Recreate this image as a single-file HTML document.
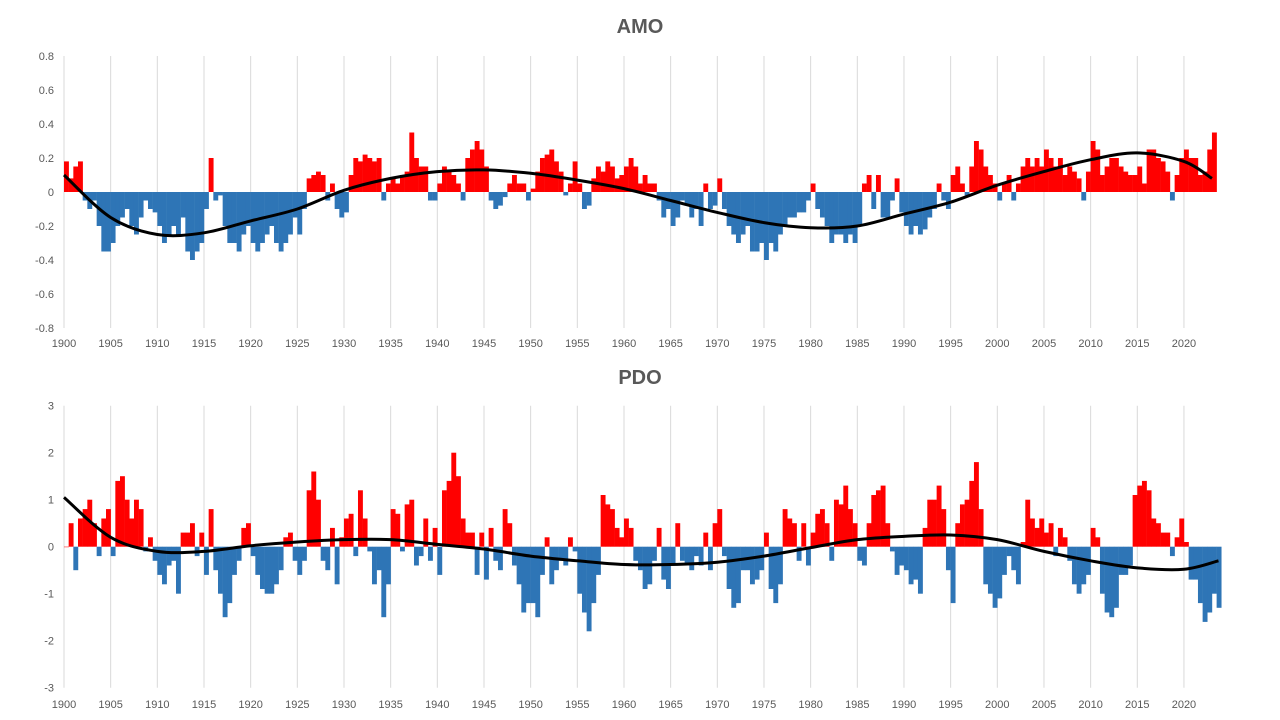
<!DOCTYPE html>
<html><head><meta charset="utf-8"><style>
body{margin:0;background:#fff;width:1280px;height:720px;overflow:hidden}
svg{display:block}
text{font-family:"Liberation Sans",sans-serif;fill:#595959}
</style></head><body>
<svg id="chart" width="1280" height="720"></svg>
<script>
// AMO semi-annual values starting 1900.0
const amoValues=[0.18,0.08,0.15,0.18,-0.05,-0.1,-0.05,-0.2,-0.35,-0.35,-0.3,-0.2,-0.15,-0.1,-0.2,-0.25,-0.15,-0.05,-0.1,-0.12,
-0.2,-0.3,-0.25,-0.2,-0.25,-0.15,-0.35,-0.4,-0.35,-0.3,-0.1,0.2,-0.05,-0.02,-0.2,-0.3,-0.3,-0.35,-0.25,-0.2,
-0.3,-0.35,-0.3,-0.25,-0.2,-0.3,-0.35,-0.3,-0.25,-0.15,-0.25,-0.1,0.08,0.1,0.12,0.1,-0.05,0.05,-0.1,-0.15,
-0.12,0.1,0.2,0.18,0.22,0.2,0.18,0.2,-0.05,0.05,0.08,0.05,0.1,0.12,0.35,0.2,0.15,0.15,-0.05,-0.05,
0.05,0.15,0.12,0.1,0.05,-0.05,0.2,0.25,0.3,0.25,0.15,-0.05,-0.1,-0.08,-0.03,0.05,0.1,0.05,0.05,-0.05,
0.02,0.12,0.2,0.22,0.25,0.18,0.12,-0.02,0.05,0.18,0.05,-0.1,-0.08,0.08,0.15,0.12,0.18,0.15,0.08,0.1,
0.15,0.2,0.15,0.05,0.1,0.05,0.05,-0.05,-0.15,-0.1,-0.2,-0.15,-0.05,-0.08,-0.15,-0.1,-0.2,0.05,-0.1,-0.08,
0.08,-0.1,-0.2,-0.25,-0.3,-0.25,-0.2,-0.35,-0.35,-0.3,-0.4,-0.3,-0.35,-0.25,-0.2,-0.15,-0.15,-0.12,-0.12,-0.05,
0.05,-0.1,-0.15,-0.2,-0.3,-0.25,-0.25,-0.3,-0.25,-0.3,-0.2,0.05,0.1,-0.1,0.1,-0.15,-0.15,-0.05,0.08,-0.12,
-0.2,-0.25,-0.2,-0.25,-0.22,-0.15,-0.1,0.05,-0.05,-0.1,0.1,0.15,0.05,-0.02,0.15,0.3,0.25,0.15,0.1,0.05,
-0.05,0.05,0.1,-0.05,0.05,0.15,0.2,0.15,0.2,0.15,0.25,0.2,0.15,0.2,0.1,0.15,0.12,0.08,-0.05,0.12,
0.3,0.25,0.1,0.15,0.2,0.2,0.15,0.12,0.1,0.1,0.15,0.05,0.25,0.25,0.2,0.18,0.12,-0.05,0.1,0.2,
0.25,0.2,0.2,0.1,0.12,0.25,0.35];
const amoTrendYears=[1900,1905,1910,1915,1920,1925,1930,1935,1940,1945,1950,1955,1960,1965,1970,1975,1980,1985,1990,1995,2000,2005,2010,2015,2020,2023];
const amoTrend=[0.1,-0.15,-0.25,-0.24,-0.17,-0.1,0.01,0.08,0.12,0.13,0.11,0.07,0.02,-0.05,-0.12,-0.18,-0.21,-0.2,-0.13,-0.06,0.04,0.12,0.19,0.23,0.18,0.08];
const amoTicks=[0.8,0.6,0.4,0.2,0,-0.2,-0.4,-0.6,-0.8];
// PDO semi-annual values starting 1900.0
const pdoValues=[0,0.5,-0.5,0.6,0.8,1.0,0.5,-0.2,0.6,0.8,-0.2,1.4,1.5,1.0,0.6,1.0,0.8,-0.1,0.2,-0.3,
-0.6,-0.8,-0.4,-0.3,-1.0,0.3,0.3,0.5,-0.2,0.3,-0.6,0.8,-0.5,-1.0,-1.5,-1.2,-0.6,-0.3,0.4,0.5,
-0.2,-0.6,-0.9,-1.0,-1.0,-0.8,-0.5,0.2,0.3,-0.3,-0.6,-0.3,1.2,1.6,1.0,-0.3,-0.5,0.4,-0.8,0.2,
0.6,0.7,-0.2,1.2,0.6,-0.1,-0.8,-0.5,-1.5,-0.8,0.8,0.7,-0.1,0.9,1.0,-0.4,-0.2,0.6,-0.3,0.4,
-0.6,1.2,1.4,2.0,1.5,0.6,0.3,0.3,-0.6,0.3,-0.7,0.4,-0.3,-0.5,0.8,0.5,-0.4,-0.8,-1.4,-1.2,
-1.2,-1.5,-0.6,0.2,-0.8,-0.5,-0.3,-0.4,0.2,-0.1,-1.0,-1.4,-1.8,-1.2,-0.6,1.1,0.9,0.8,0.4,0.2,
0.6,0.4,-0.3,-0.5,-0.9,-0.8,-0.3,0.4,-0.7,-0.9,-0.4,0.5,-0.3,-0.4,-0.5,-0.2,-0.4,0.3,-0.5,0.5,
0.8,-0.2,-0.9,-1.3,-1.2,-0.5,-0.5,-0.8,-0.7,-0.5,0.3,-0.9,-1.2,-0.8,0.8,0.6,0.5,-0.3,0.5,-0.4,
0.3,0.7,0.8,0.5,-0.3,1.0,0.9,1.3,0.8,0.5,-0.3,-0.4,0.5,1.1,1.2,1.3,0.5,-0.1,-0.6,-0.4,
-0.5,-0.8,-0.7,-1.0,0.4,1.0,1.0,1.3,0.8,-0.5,-1.2,0.5,0.9,1.0,1.4,1.8,0.8,-0.8,-1.0,-1.3,
-1.1,-0.6,-0.2,-0.5,-0.8,0.1,1.0,0.6,0.4,0.6,0.3,0.5,-0.2,0.4,0.2,-0.3,-0.8,-1.0,-0.8,-0.6,
0.4,0.2,-1.0,-1.4,-1.5,-1.3,-0.6,-0.6,-0.4,1.1,1.3,1.4,1.2,0.6,0.5,0.3,0.3,-0.2,0.2,0.6,
0.1,-0.7,-0.7,-1.2,-1.6,-1.4,-1.0,-1.3];
const pdoTrendYears=[1900,1905,1910,1915,1920,1925,1930,1935,1940,1945,1950,1955,1960,1965,1970,1975,1980,1985,1990,1995,2000,2005,2010,2015,2020,2023.7];
const pdoTrend=[1.05,0.2,-0.1,-0.1,0.02,0.1,0.15,0.15,0.05,-0.05,-0.2,-0.3,-0.38,-0.38,-0.33,-0.2,-0.02,0.15,0.22,0.25,0.15,-0.1,-0.3,-0.45,-0.48,-0.3];
const pdoTicks=[3,2,1,0,-1,-2,-3];
const yearTicks=[1900,1905,1910,1915,1920,1925,1930,1935,1940,1945,1950,1955,1960,1965,1970,1975,1980,1985,1990,1995,2000,2005,2010,2015,2020];

const NS='http://www.w3.org/2000/svg';
const svg=document.getElementById('chart');
function mk(tag,attrs,parent){const e=document.createElementNS(NS,tag);for(const k in attrs)e.setAttribute(k,attrs[k]);(parent||svg).appendChild(e);return e;}
const xOf=y=>64+(y-1900)*9.333;

function panel(cfg){
  const g=mk('g',{});
  
  
  const yOf=v=>cfg.zero-v*cfg.scale;
  const t=mk('text',{x:640,y:cfg.titleY,'text-anchor':'middle','font-size':20,'font-weight':'bold'},g);
  t.textContent=cfg.title;
  
  
  yearTicks.forEach(yr=>{
    const l=mk('line',{x1:xOf(yr),x2:xOf(yr),y1:yOf(cfg.ticks[0]),y2:yOf(cfg.ticks[cfg.ticks.length-1]),stroke:'#d9d9d9','stroke-width':1},g);
    
    
    const tx=mk('text',{x:xOf(yr),y:cfg.xLabelY,'text-anchor':'middle','font-size':11},g);
    tx.textContent=yr;
    
    
  });
  cfg.ticks.forEach(v=>{
    const tx=mk('text',{x:54,y:yOf(v)+4,'text-anchor':'end','font-size':11},g);
    tx.textContent=cfg.fmt(v);
    
    
  });
  cfg.values.forEach((v,i)=>{
    const x=xOf(1900+i*0.5);
    const y0=yOf(0),y1=yOf(v);
    const r=mk('rect',{x:x,y:Math.min(y0,y1),width:4.9,height:Math.max(0.5,Math.abs(y1-y0)),fill:v>=0?'#ff0000':'#2e75b6'},g);
    
    
  });
  const pts=cfg.trendYears.map((yr,i)=>[xOf(yr),yOf(cfg.trend[i])]);
  let d='M'+pts[0][0]+','+pts[0][1];
  for(let i=0;i<pts.length-1;i++){
    const p0=pts[Math.max(0,i-1)],p1=pts[i],p2=pts[i+1],p3=pts[Math.min(pts.length-1,i+2)];
    const c1=[p1[0]+(p2[0]-p0[0])/6,p1[1]+(p2[1]-p0[1])/6],c2=[p2[0]-(p3[0]-p1[0])/6,p2[1]-(p3[1]-p1[1])/6];
    d+=' C'+c1+' '+c2+' '+p2;
  }
  const p=mk('path',{d:d,fill:'none',stroke:'#000','stroke-width':3},g);
  
  
}
panel({name:'amo',title:'AMO',titleY:33,zero:192,scale:170,ticks:amoTicks,values:amoValues,trendYears:amoTrendYears,trend:amoTrend,xLabelY:347,fmt:v=>String(v)});
panel({name:'pdo',title:'PDO',titleY:384,zero:546.7,scale:47,ticks:pdoTicks,values:pdoValues,trendYears:pdoTrendYears,trend:pdoTrend,xLabelY:708,fmt:v=>String(v)});
</script>
</body></html>
